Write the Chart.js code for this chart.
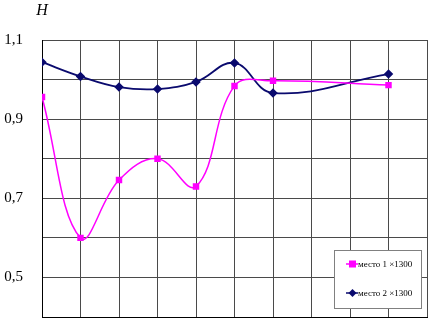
<!DOCTYPE html>
<html>
<head>
<meta charset="utf-8">
<script src="https://cdn.jsdelivr.net/npm/chart.js@4/dist/chart.umd.min.js"></script>
<style>
  html, body { margin: 0; padding: 0; background: #fff; }
  #wrap { width: 428px; height: 321px; position: relative; }
</style>
</head>
<body>
<div id="wrap"><canvas id="chart" width="428" height="321"></canvas></div>
<script>
// positions along x (there are 10 grid columns, no labels)
const xPositions = [0, 1, 2, 3, 4, 5, 6, 9];
const place1 = [0.956, 0.60, 0.746, 0.80, 0.73, 0.984, 0.997, 0.986];
const place2 = [1.044, 1.008, 0.981, 0.976, 0.994, 1.042, 0.966, 1.014];
const seriesNames = ["место 1 ×1300", "место 2 ×1300"];
const shownTicks = [1.1, 0.9, 0.7, 0.5];

const pink = "#ff00ff";
const navy = "#0a0a6e";

function toPoints(vals) {
  return vals.map((v, i) => ({ x: xPositions[i], y: v }));
}

const extras = {
  id: "extras",
  afterDraw(chart) {
    const ctx = chart.ctx;
    ctx.save();
    // axis title
    ctx.fillStyle = "#000";
    ctx.font = "italic 16px 'Liberation Serif', serif";
    ctx.textAlign = "center";
    ctx.textBaseline = "alphabetic";
    ctx.fillText("H", 42, 15);

    // legend box
    const bx = 334, by = 250, bw = 87, bh = 58;
    ctx.fillStyle = "#fff";
    ctx.fillRect(bx, by, bw, bh);
    ctx.strokeStyle = "#808080";
    ctx.lineWidth = 1;
    ctx.strokeRect(bx + 0.5, by + 0.5, bw, bh);

    const items = [
      { y: 264, color: pink, shape: "rect" },
      { y: 293, color: navy, shape: "diamond" }
    ];
    items.forEach((it, i) => {
      ctx.strokeStyle = it.color;
      ctx.lineWidth = 1.5;
      ctx.beginPath();
      ctx.moveTo(346, it.y);
      ctx.lineTo(358, it.y);
      ctx.stroke();
      ctx.fillStyle = it.color;
      if (it.shape === "rect") {
        ctx.fillRect(349, it.y - 3.5, 7, 7);
      } else {
        ctx.beginPath();
        ctx.moveTo(352.5, it.y - 4);
        ctx.lineTo(356.5, it.y);
        ctx.lineTo(352.5, it.y + 4);
        ctx.lineTo(348.5, it.y);
        ctx.closePath();
        ctx.fill();
      }
      ctx.fillStyle = "#000";
      ctx.font = "9px 'Liberation Serif', serif";
      ctx.textAlign = "left";
      ctx.textBaseline = "middle";
      ctx.fillText(seriesNames[i], 358, it.y + 1);
    });
    ctx.restore();
  }
};

new Chart(document.getElementById("chart"), {
  type: "line",
  data: {
    datasets: [
      {
        label: seriesNames[0],
        data: toPoints(place1),
        borderColor: pink,
        backgroundColor: pink,
        borderWidth: 1.5,
        pointStyle: "rect",
        pointRadius: 3.5,
        tension: 0.4
      },
      {
        label: seriesNames[1],
        data: toPoints(place2),
        borderColor: navy,
        backgroundColor: navy,
        borderWidth: 1.8,
        pointStyle: "rectRot",
        pointRadius: 3.5,
        tension: 0.4
      }
    ]
  },
  options: {
    responsive: false,
    animation: false,
    layout: { autoPadding: false, padding: { top: 40, right: 1, bottom: 0, left: 0 } },
    plugins: { legend: { display: false }, tooltip: { enabled: false } },
    scales: {
      x: {
        type: "linear",
        min: 0,
        max: 10,
        ticks: { display: false, stepSize: 1 },
        grid: { color: "#4a4a4a", drawTicks: false },
        border: { color: "#000" },
        afterFit(s) {
          s.height = 4;
          s.paddingLeft = s.paddingRight = s.paddingTop = s.paddingBottom = 0;
        }
      },
      y: {
        min: 0.4,
        max: 1.1,
        ticks: {
          stepSize: 0.1,
          padding: 19,
          color: "#000",
          font: { family: "'Liberation Serif', serif", size: 15 },
          callback: v => {
            const r = Math.round(v * 10) / 10;
            return shownTicks.includes(r) ? r.toFixed(1).replace(".", ",") : "";
          }
        },
        grid: { color: "#4a4a4a", drawTicks: false },
        border: { color: "#000" },
        afterFit(s) {
          s.width = 42;
          s.paddingLeft = s.paddingRight = s.paddingTop = s.paddingBottom = 0;
        }
      }
    }
  },
  plugins: [extras]
});
</script>
</body>
</html>
